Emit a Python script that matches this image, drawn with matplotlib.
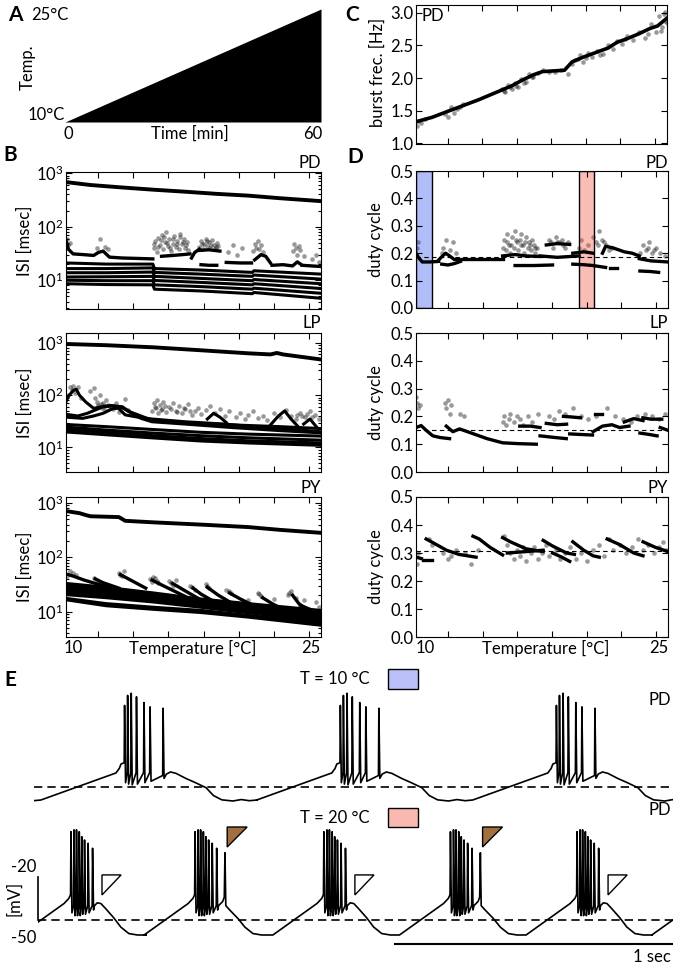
"""
temperature ramp figure: ISI, burst frequency, duty cycle and traces
"""

import matplotlib
matplotlib.use('Agg')
import matplotlib.pyplot as plt
from matplotlib.patches import Polygon, Rectangle
import numpy as np

plt.rcParams['font.family'] = ['Lato', 'DejaVu Sans']
plt.rcParams['mathtext.default'] = 'regular'
plt.rcParams['axes.linewidth'] = 0.8

W, H = 673, 964

# ---------------- data ----------------
# A: temperature ramp
ramp_time = [0, 60]
ramp_temp = [10, 25]

# C: burst frequency of PD
C_line_T = [9.45, 10.5, 11.6, 12.5, 13.5, 14.8, 15.6, 16.3, 17.0, 17.6, 18.3, 19.0,
            19.5, 20.2, 21.0, 21.8, 22.4, 23.0, 23.8, 24.5, 25.0, 25.6]
C_line_f = [1.33, 1.40, 1.50, 1.58, 1.67, 1.80, 1.88, 1.97, 2.05, 2.10, 2.11, 2.12,
            2.25, 2.32, 2.39, 2.46, 2.55, 2.60, 2.68, 2.76, 2.80, 2.92]
C_cloud_T = [9.5, 9.6, 9.8, 10.0, 11.3, 11.5, 11.7, 11.9, 12.1, 12.3, 12.5, 15.0, 15.2, 15.4,
             15.6, 15.8, 16.0, 16.2, 16.5, 16.7, 17.0, 17.3, 17.6, 18.0, 18.4, 18.8, 19.2, 19.5,
             19.7, 20.0, 20.2, 20.5, 20.8, 21.1, 21.5, 21.8, 22.1, 22.4, 22.7, 23.0, 23.4, 23.8,
             24.2, 24.6, 24.9, 25.1, 25.3, 25.5, 25.6, 25.4, 15.1, 15.5, 15.9, 16.4, 16.9, 19.9,
             20.4, 21.3, 22.9, 24.4, 25.2, 25.45]
C_cloud_f = [1.27, 1.35, 1.31, 1.37, 1.45, 1.40, 1.55, 1.47, 1.52, 1.56, 1.60, 1.84, 1.78, 1.90,
             1.83, 1.92, 1.86, 1.99, 1.94, 2.06, 2.01, 2.08, 2.12, 2.10, 2.09, 2.13, 2.07, 2.22,
             2.28, 2.35, 2.25, 2.38, 2.33, 2.42, 2.37, 2.50, 2.44, 2.57, 2.52, 2.64, 2.58, 2.70,
             2.62, 2.83, 2.70, 2.95, 2.78, 3.02, 2.85, 2.98, 1.80, 1.87, 1.88, 1.93, 2.02, 2.30,
             2.31, 2.36, 2.60, 2.68, 2.72, 2.88]

# B: ISIs, PD
PD_period_T = [9.45, 11.0, 13.0, 15.0, 17.0, 19.0, 21.0, 23.0, 25.6]
PD_period_isi = [680, 600, 540, 490, 450, 410, 380, 340, 300]
PD_band_T = [9.45, 12.0, 14.95, 15.05, 18.0, 21.25, 21.35, 25.6]
PD_band_isi = [[21, 20, 20, 16.5, 15.5, 14, 15, 13],
               [16.5, 16.5, 17, 14, 13, 11.8, 12.5, 10.5],
               [13.8, 13.8, 14.2, 11.8, 10.8, 9.8, 10.3, 8.6],
               [11.5, 11.6, 11.8, 9.9, 9.1, 8.2, 8.6, 7.0],
               [10, 9.8, 9.8, 8.2, 7.6, 6.8, 7.1, 5.7],
               [8.6, 8.3, 8.2, 6.8, 6.3, 5.6, 5.9, 4.6]]
PD_first_T = [[9.45, 9.6, 9.9, 10.6, 11.2, 11.5, 11.8, 12.2, 13.0, 14.0, 14.95],
              [15.5, 16.2, 16.8, 17.3], [17.4, 17.6, 17.9], [17.9, 18.5, 19.2],
              [18.0, 18.5, 19.0], [19.6, 20.5, 21.2], [21.4, 21.8, 22.1, 22.4],
              [22.5, 23.2, 23.8, 24.1, 24.3], [24.4, 25.0, 25.6]]
PD_first_isi = [[55, 38, 31, 30, 29, 33, 35, 27, 26, 25.5, 25],
                [28, 29, 30, 31], [26, 33, 38], [36, 37, 35],
                [19.5, 19, 19], [21.5, 21, 21], [24, 30, 28, 21],
                [19, 19.5, 18.5, 22, 20], [19, 18.5, 18]]
PD_cloud_T = [9.5, 9.55, 9.7, 11.4, 11.6, 11.9, 12.1, 15.0, 15.1, 15.2, 15.3, 15.4, 15.5, 15.6,
              15.7, 15.8, 15.9, 16.0, 16.1, 16.2, 16.3, 16.4, 16.5, 16.6, 16.7, 16.8, 16.9, 17.0,
              17.1, 17.2, 17.9, 18.0, 18.1, 18.2, 18.3, 18.4, 18.5, 18.6, 18.7, 18.8, 18.9, 19.0,
              19.1, 19.7, 20.0, 20.3, 20.6, 21.3, 21.4, 21.5, 21.6, 21.7, 21.8, 21.9, 23.8, 23.9,
              24.0, 24.1, 24.2, 24.3, 24.5, 25.0, 25.3, 25.5, 15.05, 15.25, 15.45, 15.65, 15.85,
              16.05, 16.25, 16.45, 16.65, 16.85, 17.05, 18.05, 18.35, 18.65, 18.95]
PD_cloud_isi = [58, 45, 50, 40, 60, 42, 38, 40, 55, 33, 62, 45, 70, 38,
                52, 78, 44, 60, 35, 48, 66, 42, 55, 38, 72, 47, 58, 40,
                52, 36, 42, 55, 38, 48, 60, 44, 52, 40, 57, 46, 38, 50,
                43, 33, 45, 30, 40, 35, 48, 40, 55, 38, 45, 33, 35, 48,
                40, 30, 44, 36, 28, 25, 30, 22, 48, 42, 56, 64, 50,
                40, 58, 47, 64, 52, 45, 47, 53, 45, 42]

# B: ISIs, LP
LP_period_T = [9.45, 12.0, 15.0, 18.0, 21.0, 22.4, 22.8, 23.2, 25.6]
LP_period_isi = [950, 900, 820, 720, 630, 600, 640, 600, 480]
LP_line_T = [[9.45, 9.6, 9.9, 10.1, 10.3, 10.7, 11.2, 11.6, 12.0, 12.4, 12.8, 13.2, 14.0,
              14.9, 17.0, 19.5, 21.3, 23.0, 25.6],
             [9.45, 10.2, 10.8, 11.3, 11.8, 12.4, 13.0, 13.5, 14.2, 14.9, 17.0, 20.0, 23.0, 25.6],
             [9.45, 10.5, 11.2, 11.8, 12.4, 13.0, 13.6, 14.2, 14.9, 17.0, 20.0, 23.0, 25.6],
             [9.45, 12.0, 15.0, 18.0, 21.0, 25.6],
             [9.45, 12.0, 15.0, 18.0, 21.0, 25.6],
             [9.45, 12.0, 15.0, 18.0, 21.0, 25.6],
             [9.45, 12.0, 15.0, 18.0, 21.0, 25.6],
             [22.4, 22.9, 23.3, 23.7, 24.1], [24.5, 24.9, 25.3], [18.4, 18.8, 19.2, 19.6]]
LP_line_isi = [[75, 95, 122, 130, 100, 74, 56, 59, 62, 63, 55, 42, 38, 35, 31, 28, 25, 23, 20],
               [43, 40, 45, 52, 60, 63, 60, 48, 40, 33, 30, 27, 25, 23],
               [38, 36, 40, 45, 55, 58, 45, 36, 31, 28, 24, 21, 19],
               [27.5, 25, 22, 19.5, 18, 16.5],
               [24.5, 21.5, 18.8, 16.8, 15.3, 13.8],
               [22, 19.5, 16.8, 14.8, 13.4, 12.2],
               [19.8, 17.5, 15.2, 13.3, 12.2, 11.0],
               [27, 40, 50, 35, 26], [28, 35, 25], [35, 45, 38, 30]]
LP_cloud_T = [9.6, 9.7, 9.8, 9.9, 10.0, 10.2, 10.4, 11.0, 11.2, 11.3, 11.4, 11.5, 11.6, 11.7,
              11.8, 11.9, 12.0, 12.2, 12.4, 12.6, 12.8, 13.0, 13.2, 13.4, 14.9, 15.0, 15.1, 15.2,
              15.3, 15.4, 15.5, 15.6, 15.8, 16.0, 16.2, 16.4, 16.6, 16.8, 17.0, 17.2, 17.4, 17.6,
              17.8, 18.0, 18.3, 18.6, 18.9, 19.2, 19.5, 19.8, 20.2, 20.5, 20.8, 21.0, 21.3, 21.6,
              21.9, 22.2, 22.6, 23.0, 23.4, 23.7, 24.0, 24.3, 24.6, 24.9, 25.2, 25.5, 11.45,
              11.65, 11.85, 12.1, 12.3, 15.15, 15.45, 15.75, 16.1, 16.5, 16.9, 17.3, 24.1, 24.4,
              24.7, 25.0]
LP_cloud_isi = [100, 140, 125, 150, 110, 145, 90, 120, 135, 90, 75, 65, 100, 58,
                70, 52, 80, 62, 55, 70, 48, 60, 85, 52, 50, 70, 60, 80,
                45, 65, 55, 75, 48, 60, 70, 50, 62, 45, 55, 68, 42, 50,
                58, 44, 52, 62, 46, 55, 40, 50, 38, 45, 35, 42, 50, 36,
                40, 33, 45, 38, 52, 40, 35, 45, 38, 50, 42, 35, 60,
                68, 62, 66, 58, 58, 52, 62, 55, 48, 56, 50, 42, 40,
                44, 38]

# B: ISIs, PY
PY_period_T = [9.45, 10.3, 10.7, 11.0, 12.8, 13.2, 15.0, 18.0, 21.0, 23.0, 25.6]
PY_period_isi = [710, 650, 600, 570, 550, 470, 440, 400, 360, 320, 282]
PY_band_T = [9.45, 12.0, 15.0, 18.0, 21.0, 25.6]
PY_band_isi = [[33, 28, 22, 17, 14, 10.5],
               [30, 26, 20.5, 16, 13, 9.5],
               [28, 24, 19, 15, 12, 9],
               [26, 22.5, 18, 14, 11.5, 8.2],
               [24, 21, 17, 13.2, 10.8, 7.6],
               [22, 19.5, 16, 12.5, 10, 7],
               [20.5, 18, 15, 12, 9.5, 6.5],
               [17.5, 14, 12, 10.5, 8.5, 6.0],
               [16.5, 12.8, 11, 9.6, 7.9, 5.6]]
PY_tooth_T = [[9.6, 10.0, 10.6, 11.3, 12.4], [11.3, 11.8, 12.8], [12.9, 13.4, 14.5],
              [14.9, 15.6, 17.0], [16.2, 16.9, 17.9], [17.5, 18.0, 18.7], [18.4, 19.1, 20.0],
              [19.8, 20.5, 21.3], [21.9, 22.5, 23.2], [23.8, 24.2, 24.6], [24.3, 24.9, 25.6]]
PY_tooth_isi = [[48, 44, 38, 33, 27], [40, 34, 27], [48, 40, 27], [38, 30, 19], [33, 25, 17],
                [27, 21, 16], [28, 20, 14], [22, 17, 13], [18, 14, 11], [20, 14, 11.5], [13, 11, 9]]
PY_cloud_T = [9.5, 9.9, 10.1, 11.2, 11.4, 12.8, 13.0, 13.1, 14.8, 14.9, 15.1, 15.3, 16.0, 16.2,
              16.4, 17.3, 17.6, 18.3, 18.5, 19.6, 19.9, 21.0, 21.6, 21.8, 22.6, 23.5, 23.7, 24.0,
              24.5, 25.3, 25.5, 9.7, 12.9, 14.95, 15.2, 16.1, 17.4, 18.4, 19.8, 21.7, 23.6]
PY_cloud_isi = [45, 52, 47, 42, 36, 52, 45, 55, 40, 35, 42, 33, 36, 30,
                38, 30, 25, 32, 27, 25, 22, 16, 22, 19, 17, 20, 24, 18,
                16, 15, 12, 55, 48, 44, 37, 33, 28, 29, 24, 21, 22]

# D: duty cycles
PD_dc_mean = 0.185
PD_dc_T = [[9.46, 9.6, 9.85, 10.3, 10.9], [10.9, 11.1, 11.35, 11.6, 11.88],
           [11.1, 11.5, 11.9, 12.3], [12.0, 13.5, 15.0], [15.0, 15.8, 16.5, 17.4],
           [15.8, 17.0, 18.2], [17.8, 18.5, 19.3], [17.4, 18.5, 19.9], [19.5, 20.2, 20.8],
           [19.5, 20.2, 20.8, 21.6], [21.4, 21.6, 22.05, 22.8, 23.3, 23.76],
           [23.76, 24.5, 25.6], [21.9, 22.3], [23.8, 24.5, 25.0]]
PD_dc = [[0.2, 0.185, 0.168, 0.168, 0.17], [0.175, 0.187, 0.2, 0.19, 0.178],
         [0.16, 0.157, 0.162, 0.17], [0.178, 0.178, 0.178], [0.19, 0.195, 0.19, 0.188],
         [0.155, 0.155, 0.157], [0.23, 0.235, 0.232], [0.19, 0.185, 0.19], [0.2, 0.205, 0.2],
         [0.16, 0.158, 0.155, 0.148], [0.2, 0.225, 0.22, 0.205, 0.2, 0.19],
         [0.18, 0.172, 0.168], [0.145, 0.145], [0.135, 0.133, 0.13]]
PD_dc_cloud_T = [9.5, 9.55, 11.1, 11.2, 11.4, 11.6, 11.8, 12.0, 15.0, 15.1, 15.2, 15.3, 15.4,
                 15.5, 15.6, 15.7, 15.8, 15.9, 16.0, 16.1, 16.2, 16.3, 16.4, 16.5, 16.6, 16.7,
                 16.8, 16.9, 17.0, 17.1, 17.2, 18.0, 18.2, 18.4, 18.6, 18.8, 19.0, 19.2, 19.9,
                 20.0, 20.2, 20.5, 20.8, 21.0, 21.2, 21.4, 21.6, 21.8, 22.0, 23.8, 24.0, 24.2,
                 24.4, 24.6, 24.8, 25.1, 25.4, 15.25, 15.55, 15.85, 16.15, 16.45, 16.75, 17.05,
                 18.1, 18.5, 18.9, 21.1, 21.5, 24.3, 24.7]
PD_dc_cloud = [0.22, 0.24, 0.2, 0.22, 0.25, 0.21, 0.24, 0.2, 0.22, 0.25, 0.21, 0.27, 0.23,
               0.2, 0.26, 0.22, 0.28, 0.24, 0.21, 0.25, 0.27, 0.23, 0.2, 0.26, 0.22, 0.24,
               0.21, 0.25, 0.23, 0.2, 0.22, 0.25, 0.22, 0.26, 0.24, 0.25, 0.22, 0.24, 0.22,
               0.25, 0.21, 0.23, 0.26, 0.24, 0.28, 0.25, 0.23, 0.21, 0.22, 0.2, 0.23, 0.21,
               0.24, 0.2, 0.22, 0.2, 0.19, 0.24, 0.23, 0.25, 0.23, 0.24, 0.23, 0.22,
               0.24, 0.24, 0.23, 0.23, 0.24, 0.22, 0.21]

LP_dc_mean = 0.152
LP_dc_T = [[9.46, 9.78, 10.1, 10.53, 11.0, 11.6],
           [11.39, 11.81, 12.24, 13.0, 14.0, 15.0, 16.0, 17.16],
           [16.1, 16.8, 17.4], [17.4, 18.2, 19.08], [17.8, 18.5, 19.1], [18.9, 19.4, 20.0],
           [19.3, 20.0, 20.76], [20.9, 21.4], [20.8, 21.4, 22.0, 22.5, 23.1],
           [22.8, 23.4, 24.0], [23.99, 24.5, 25.2], [23.8, 24.4, 24.9], [25.1, 25.6]]
LP_dc = [[0.16, 0.167, 0.15, 0.13, 0.124, 0.12],
         [0.165, 0.145, 0.155, 0.14, 0.12, 0.105, 0.102, 0.1],
         [0.165, 0.165, 0.16], [0.13, 0.125, 0.12], [0.175, 0.17, 0.172], [0.2, 0.198, 0.195],
         [0.137, 0.135, 0.133], [0.21, 0.21], [0.145, 0.165, 0.17, 0.16, 0.165],
         [0.18, 0.192, 0.185], [0.195, 0.19, 0.19], [0.14, 0.135, 0.13], [0.16, 0.15]]
LP_dc_cloud_T = [9.46, 9.5, 9.6, 9.7, 11.3, 11.4, 11.5, 11.6, 11.7, 12.3, 12.5, 15.0, 15.1,
                 15.2, 15.4, 15.5, 15.7, 15.9, 16.1, 16.3, 16.6, 16.9, 17.3, 18.0, 18.3, 18.6,
                 19.0, 19.5, 20.0, 20.5, 21.0, 21.7, 22.2, 22.7, 23.2, 23.6, 24.1, 24.6, 25.0,
                 25.4]
LP_dc_cloud = [0.27, 0.25, 0.23, 0.24, 0.25, 0.23, 0.26, 0.21, 0.24, 0.21, 0.2, 0.18, 0.2,
               0.17, 0.19, 0.21, 0.18, 0.2, 0.19, 0.17, 0.2, 0.18, 0.21, 0.2, 0.19, 0.22,
               0.21, 0.23, 0.2, 0.19, 0.2, 0.23, 0.2, 0.19, 0.18, 0.2, 0.21, 0.2, 0.19, 0.21]

PY_dc_mean = 0.308
PY_dc_T = [[9.46, 9.8], [9.9, 10.5], [10.1, 10.6, 11.4, 12.2, 13.3], [13.1, 13.5, 14.2, 15.0],
           [15.0, 15.5, 16.5, 17.6], [17.6, 18.2, 19.1, 19.6], [18.2, 18.8, 19.3],
           [19.5, 20.2, 20.8, 21.2], [21.7, 22.5, 23.4, 24.0], [24.0, 24.8, 25.6],
           [15.3, 16.5, 17.6]]
PY_dc = [[0.285, 0.28], [0.275, 0.275], [0.35, 0.335, 0.31, 0.295, 0.285],
         [0.36, 0.35, 0.32, 0.293], [0.355, 0.34, 0.315, 0.305], [0.345, 0.325, 0.3, 0.295],
         [0.3, 0.285, 0.27], [0.34, 0.31, 0.29, 0.285], [0.35, 0.33, 0.3, 0.29],
         [0.34, 0.32, 0.305], [0.3, 0.305, 0.31]]
PY_dc_cloud_T = [9.5, 9.6, 10.3, 10.5, 11.2, 11.5, 11.7, 12.0, 12.6, 13.0, 13.4, 15.1, 15.3,
                 15.5, 15.7, 15.9, 16.1, 16.3, 16.5, 16.8, 17.0, 17.3, 17.5, 17.8, 18.0, 18.4,
                 18.7, 19.0, 19.3, 19.7, 20.0, 20.4, 20.8, 21.2, 21.5, 21.8, 22.1, 22.5, 22.9,
                 23.3, 23.7, 24.0, 24.3, 24.7, 25.0, 25.3, 25.5]
PY_dc_cloud = [0.26, 0.3, 0.35, 0.33, 0.3, 0.28, 0.29, 0.31, 0.3, 0.26, 0.31, 0.36, 0.33,
               0.3, 0.28, 0.31, 0.29, 0.32, 0.27, 0.3, 0.32, 0.28, 0.3, 0.33, 0.29, 0.31,
               0.28, 0.3, 0.32, 0.28, 0.3, 0.27, 0.31, 0.33, 0.29, 0.35, 0.31, 0.33, 0.3,
               0.32, 0.35, 0.31, 0.33, 0.3, 0.32, 0.34, 0.31]

# temperatures of the two example traces (shaded in D)
cold_span = [9.48, 10.45]
warm_span = [19.87, 20.83]

# E: voltage traces (time in s relative to burst onset, V in mV)
cold_onsets = [-0.462, 0.318, 1.097, 1.877]
cold_pre = [(-0.293, -59.1), (-0.022, -40.2), (-0.010, -37), (-0.004, -34)]
cold_spike_dt = [0.009, 0.020, 0.033, 0.052, 0.079, 0.101, 0.148]
cold_spike_pre = [-33, -40, -40, -40, -40, -40, -42]
cold_spike_peak = [7, 14, 15.5, 13, 9, 6, 5]
cold_spike_trough = [-47, -48, -48.5, -48, -47, -46, -44]
cold_post = [(0.160, -41), (0.175, -39.5), (0.195, -40.5), (0.23, -44), (0.265, -47),
             (0.303, -50.5), (0.33, -56), (0.36, -59), (0.40, -59.8), (0.43, -58.8),
             (0.46, -59.6), (0.487, -59.1)]

warm_onsets = [0.119, 0.567, 1.032, 1.489, 1.946, 2.40]
warm_extra_spike = [False, True, False, True, False, False]
warm_pre = [(-0.184, -60.5), (-0.025, -38.5), (-0.008, -35), (-0.003, -33)]
warm_spike_dt = [0.0, 0.011, 0.020, 0.030, 0.039, 0.049, 0.062, 0.078]
warm_spike_pre = [-32, -40, -40, -40, -40, -40, -40, -40]
warm_spike_peak = [11.7, 13, 13, 11.7, 8.2, 5.9, 3.6, 0.1]
warm_spike_trough = [-45, -47, -47, -47, -46, -46, -45, -43]
warm_post_hump = [(0.085, -40), (0.095, -38), (0.108, -38.5), (0.125, -42), (0.155, -48.6),
                  (0.18, -55), (0.209, -59.5), (0.24, -60.5), (0.271, -60.5)]
warm_post_spike = [(0.085, -40), (0.100, -37), (0.1055, -34), (0.108, -3), (0.111, -40),
                   (0.125, -43), (0.155, -49), (0.18, -55), (0.209, -59.5), (0.24, -60.5),
                   (0.271, -60.5)]

tick_T = [11.5, 13.72, 15.94, 18.16, 20.38, 22.6, 24.82]

FS = 12
CLOUD = dict(s=11, c='k', alpha=0.4, linewidths=0)


def rect(l, t, r, b):
    return [l / W, 1 - b / H, (r - l) / W, (b - t) / H]


def px(x, y):
    return x / W, 1 - y / H


def build_trace(onsets, pre, sdt, spre, speak, strough, posts):
    t, v = [], []
    for t0, post in zip(onsets, posts):
        for dt, vv in pre:
            t.append(t0 + dt); v.append(vv)
        for ts, vb, vp, vt in zip(sdt, spre, speak, strough):
            t += [t0 + ts - 0.0015, t0 + ts, t0 + ts + 0.0035]
            v += [vb, vp, vt]
        for dt, vv in post:
            t.append(t0 + dt); v.append(vv)
    return t, v


def style_T_axis(ax):
    ax.set_xlim(9.45, 25.6)
    ax.set_xticks(tick_T)
    ax.tick_params(axis='both', which='both', direction='in', top=True, right=True,
                   labelbottom=False, labelsize=FS, width=0.8)
    ax.tick_params(which='major', length=4)
    ax.tick_params(which='minor', length=2)


fig = plt.figure(figsize=(W / 100, H / 100), dpi=100)

# ---------------- A ----------------
axA = fig.add_axes(rect(65, 9, 321, 122))
axA.fill_between(ramp_time, ramp_temp, 10, color='k', lw=0)
axA.set_xlim(0, 60)
axA.set_ylim(10, 25)
axA.axis('off')
fig.text(*px(8, 15), 'A', fontsize=15, weight='bold', va='center', ha='left')
fig.text(*px(68, 15), '25°C', fontsize=FS, ha='right', va='center')
fig.text(*px(65, 115), '10°C', fontsize=FS, ha='right', va='center')
fig.text(*px(28, 67), 'Temp.', fontsize=FS, ha='center', va='center', rotation=90)
fig.text(*px(68, 134), '0', fontsize=FS, ha='center', va='center')
fig.text(*px(190, 134), 'Time [min]', fontsize=FS, ha='center', va='center')
fig.text(*px(313, 134), '60', fontsize=FS, ha='center', va='center')

# ---------------- C ----------------
axC = fig.add_axes(rect(416, 5, 667, 144))
axC.scatter(C_cloud_T, C_cloud_f, **CLOUD)
axC.plot(C_line_T, C_line_f, color='k', lw=2.6)
style_T_axis(axC)
axC.set_ylim(0.99, 3.12)
axC.set_yticks([1.0, 1.5, 2.0, 2.5, 3.0])
axC.set_yticklabels(['1.0', '1.5', '2.0', '2.5', '3.0'])
axC.tick_params(axis='y', pad=2)
axC.text(0.02, 0.92, 'PD', transform=axC.transAxes, fontsize=FS, va='center')
fig.text(*px(378, 72), 'burst frec. [Hz]', fontsize=FS, ha='center', va='center',
         rotation=90)
fig.text(*px(352, 15), 'C', fontsize=15, weight='bold', ha='center', va='center')

# ---------------- B ----------------
B_rects = [rect(66, 172, 321, 309), rect(66, 333, 321, 472), rect(66, 497, 321, 637)]
B_ylims = [(2.9, 1050), (3.4, 1540), (3.4, 1290)]
B_names = ['PD', 'LP', 'PY']
B_label_y = [163, 323, 488]
axB = [fig.add_axes(r) for r in B_rects]

axB[0].scatter(PD_cloud_T, PD_cloud_isi, **CLOUD)
axB[0].plot(PD_period_T, PD_period_isi, color='k', lw=2.8)
for vals in PD_band_isi:
    axB[0].plot(PD_band_T, vals, color='k', lw=2.2)
for tt, vals in zip(PD_first_T, PD_first_isi):
    axB[0].plot(tt, vals, color='k', lw=2.4)

axB[1].scatter(LP_cloud_T, LP_cloud_isi, **CLOUD)
axB[1].plot(LP_period_T, LP_period_isi, color='k', lw=2.8)
for tt, vals in zip(LP_line_T, LP_line_isi):
    axB[1].plot(tt, vals, color='k', lw=2.2)

axB[2].scatter(PY_cloud_T, PY_cloud_isi, **CLOUD)
axB[2].plot(PY_period_T, PY_period_isi, color='k', lw=2.8)
for vals in PY_band_isi:
    axB[2].plot(PY_band_T, vals, color='k', lw=2.2)
for tt, vals in zip(PY_tooth_T, PY_tooth_isi):
    axB[2].plot(tt, vals, color='k', lw=2.4)

for ax, yl, name, ly in zip(axB, B_ylims, B_names, B_label_y):
    ax.set_yscale('log')
    ax.set_ylim(*yl)
    style_T_axis(ax)
    ax.tick_params(axis='y', pad=2)
    fig.text(*px(321, ly), name, fontsize=FS, ha='right', va='center')
    pos = ax.get_position()
    fig.text(25 / W, pos.y0 + pos.height / 2, 'ISI [msec]', fontsize=FS, ha='center',
             va='center', rotation=90)
fig.text(*px(10, 155), 'B', fontsize=15, weight='bold', ha='center', va='center')
fig.text(*px(73, 648), '10', fontsize=FS, ha='center', va='center')
fig.text(*px(311, 648), '25', fontsize=FS, ha='center', va='center')
fig.text(*px(193, 648), 'Temperature [°C]', fontsize=FS, ha='center', va='center')

# ---------------- D ----------------
D_rects = [rect(416, 171, 668, 308), rect(416, 333, 668, 472), rect(416, 497, 668, 637)]
axD = [fig.add_axes(r) for r in D_rects]
D_sets = [(PD_dc_T, PD_dc, PD_dc_cloud_T, PD_dc_cloud, PD_dc_mean),
          (LP_dc_T, LP_dc, LP_dc_cloud_T, LP_dc_cloud, LP_dc_mean),
          (PY_dc_T, PY_dc, PY_dc_cloud_T, PY_dc_cloud, PY_dc_mean)]
for ax, (segT, segV, cT, cV, mean), name, ly in zip(axD, D_sets, B_names, B_label_y):
    ax.scatter(cT, cV, **CLOUD)
    for tt, vals in zip(segT, segV):
        ax.plot(tt, vals, color='k', lw=2.4)
    ax.axhline(mean, color='k', lw=0.8, ls=(0, (4, 3)))
    ax.set_ylim(0, 0.5)
    ax.set_yticks([0, 0.1, 0.2, 0.3, 0.4, 0.5])
    ax.set_yticklabels(['0.0', '0.1', '0.2', '0.3', '0.4', '0.5'])
    style_T_axis(ax)
    ax.tick_params(axis='y', pad=2)
    fig.text(*px(668, ly), name, fontsize=FS, ha='right', va='center')
    pos = ax.get_position()
    fig.text(376 / W, pos.y0 + pos.height / 2, 'duty cycle', fontsize=FS, ha='center',
             va='center', rotation=90)
axD[0].axvspan(*cold_span, facecolor=(0.2, 0.32, 0.94, 0.38), edgecolor='k', lw=1)
axD[0].axvspan(*warm_span, facecolor=(0.94, 0.32, 0.24, 0.38), edgecolor='k', lw=1)
fig.text(*px(355, 157), 'D', fontsize=15, weight='bold', ha='center', va='center')
fig.text(*px(425, 648), '10', fontsize=FS, ha='center', va='center')
fig.text(*px(659, 648), '25', fontsize=FS, ha='center', va='center')
fig.text(*px(546, 648), 'Temperature [°C]', fontsize=FS, ha='center', va='center')

# ---------------- E ----------------
axE1 = fig.add_axes(rect(34, 690, 673, 805))
t1, v1 = build_trace(cold_onsets, cold_pre, cold_spike_dt, cold_spike_pre, cold_spike_peak,
                     cold_spike_trough, [cold_post] * len(cold_onsets))
axE1.plot(t1, v1, color='k', lw=1.2)
axE1.axhline(-50, color='k', lw=1.2, ls=(0, (5, 3)))
axE1.set_xlim(0, 639 / 277)
axE1.set_ylim(-62.6, 17.8)
axE1.axis('off')

axE2 = fig.add_axes(rect(38, 826, 673, 940))
posts = [warm_post_spike if e else warm_post_hump for e in warm_extra_spike]
t2, v2 = build_trace(warm_onsets, warm_pre, warm_spike_dt, warm_spike_pre, warm_spike_peak,
                     warm_spike_trough, posts)
axE2.plot(t2, v2, color='k', lw=1.2)
axE2.axhline(-50, color='k', lw=1.2, ls=(0, (5, 3)))
axE2.set_xlim(0, 635 / 277)
axE2.set_ylim(-64, 15.7)
axE2.axis('off')
# markers: filled for the extra spike, open for the missing one
for t0, extra in zip(warm_onsets, warm_extra_spike):
    if t0 > 2.2:
        continue
    if extra:
        tri = Polygon([(t0 + 0.116, 15), (t0 + 0.188, 15), (t0 + 0.116, 1)], closed=True,
                      facecolor='#a0703f', edgecolor='k', lw=1, clip_on=False)
    else:
        tri = Polygon([(t0 + 0.112, -18.5), (t0 + 0.181, -18.5), (t0 + 0.112, -32.5)],
                      closed=True, facecolor='white', edgecolor='k', lw=1, clip_on=False)
    axE2.add_patch(tri)
# scale bars
axE2.plot([0, 0], [-50, -20], color='k', lw=1.2, clip_on=False)
axE2.plot([1.289, 2.289], [-66.8, -66.8], color='k', lw=1.5, clip_on=False)

fig.text(*px(10, 680), 'E', fontsize=15, weight='bold', ha='center', va='center')
fig.text(*px(335, 679), 'T = 10 °C', fontsize=FS, ha='center', va='center')
fig.text(*px(335, 818), 'T = 20 °C', fontsize=FS, ha='center', va='center')
fig.patches.append(Rectangle(px(388, 689), 30 / W, 20 / H, transform=fig.transFigure,
                             facecolor='#b9c1f8', edgecolor='k', lw=1))
fig.patches.append(Rectangle(px(388, 827), 30 / W, 19 / H, transform=fig.transFigure,
                             facecolor='#f9b9b0', edgecolor='k', lw=1))
fig.text(*px(671, 700), 'PD', fontsize=FS, ha='right', va='center')
fig.text(*px(671, 810), 'PD', fontsize=FS, ha='right', va='center')
fig.text(*px(14, 898), '[mV]', fontsize=FS, ha='center', va='center', rotation=90)
fig.text(*px(36, 867), '-20', fontsize=FS, ha='right', va='center')
fig.text(*px(36, 938), '-50', fontsize=FS, ha='right', va='center')
fig.text(*px(671, 957), '1 sec', fontsize=FS, ha='right', va='center')

fig.savefig('out.png', dpi=100)
